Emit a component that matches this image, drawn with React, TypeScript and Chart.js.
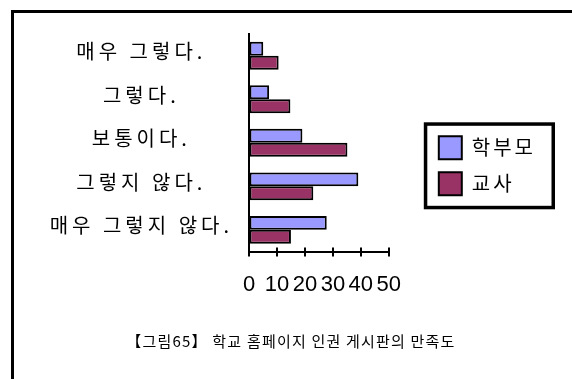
import React, { useEffect, useRef } from "react";
import { Chart, registerables } from "chart.js";

Chart.register(...registerables);

const categories = ["매우 그렇다.", "그렇다.", "보통이다.", "그렇지 않다.", "매우 그렇지 않다."];
const seriesNames = ["학부모", "교사"];
const parentValues = [5.1, 7.2, 19.1, 39.1, 27.8];
const teacherValues = [10.6, 14.8, 35.2, 23.0, 15.0];
const xTicks = [0, 10, 20, 30, 40, 50];
const caption = "【그림65】 학교 홈페이지 인권 게시판의 만족도";

const KR = "'Noto Sans CJK KR', 'Noto Sans', sans-serif";

const crossTicks = {
  id: "crossTicks",
  afterDatasetsDraw(chart: any) {
    const xs = chart.scales.x;
    const ctx = chart.ctx;
    const y = chart.chartArea.bottom;
    ctx.save();
    ctx.strokeStyle = "#000";
    ctx.lineWidth = 2;
    xs.ticks.forEach((t: any) => {
      const px = Math.round(xs.getPixelForValue(t.value));
      ctx.beginPath();
      ctx.moveTo(px, y - 4);
      ctx.lineTo(px, y + 5);
      ctx.stroke();
    });
    ctx.restore();
  },
};

const textSpacing = {
  id: "textSpacing",
  afterLayout(chart: any) {
    const ys = chart.scales.y;
    if (ys && !ys.__spaced) {
      const orig = ys.drawLabels;
      ys.drawLabels = function (area: any) {
        const c = this.ctx;
        c.save();
        c.letterSpacing = "4px";
        orig.call(this, area);
        c.restore();
      };
      ys.__spaced = true;
    }
    const lg = chart.legend;
    if (lg && !lg.__spaced) {
      const o = lg.draw;
      lg.draw = function (...args: any[]) {
        const c = this.ctx;
        c.save();
        c.letterSpacing = "3px";
        o.apply(this, args);
        c.restore();
      };
      lg.__spaced = true;
    }
  },
};

const legendBox = {
  id: "legendBox",
  afterLayout(chart: any) {
    const lg = chart.legend;
    if (!lg) return;
    const dx = chart.chartArea.right + 37 - lg.left;
    const dy = 23;
    lg.left += dx;
    lg.right += dx;
    lg.top += dy;
    lg.bottom += dy;
  },
  afterDraw(chart: any) {
    const lg = chart.legend;
    if (!lg || !lg.legendHitBoxes || !lg.legendHitBoxes.length) return;
    const hbs = lg.legendHitBoxes;
    const first = hbs[0];
    const last = hbs[hbs.length - 1];
    let right = 0;
    hbs.forEach((h: any) => (right = Math.max(right, h.left + h.width)));
    const x0 = first.left - 15;
    const y0 = first.top - 14;
    const x1 = right + 28;
    const y1 = last.top + last.height + 14;
    const ctx = chart.ctx;
    ctx.save();
    ctx.strokeStyle = "#000";
    ctx.lineWidth = 3.5;
    ctx.strokeRect(x0 + 1.75, y0 + 1.75, x1 - x0 - 3.5, y1 - y0 - 3.5);
    ctx.restore();
  },
};

export default function App() {
  const ref = useRef<HTMLCanvasElement | null>(null);

  useEffect(() => {
    if (!ref.current) return;
    const chart = new Chart(ref.current, {
      type: "bar",
      data: {
        labels: categories,
        datasets: [
          {
            label: seriesNames[0],
            data: parentValues,
            backgroundColor: "#9999FF",
            borderColor: "#000",
            borderWidth: 2,
            borderSkipped: false,
            categoryPercentage: 0.64,
            barPercentage: 1,
          },
          {
            label: seriesNames[1],
            data: teacherValues,
            backgroundColor: "#993366",
            borderColor: "#000",
            borderWidth: 2,
            borderSkipped: false,
            categoryPercentage: 0.64,
            barPercentage: 1,
          },
        ],
      },
      options: {
        indexAxis: "y",
        responsive: false,
        animation: false,
        devicePixelRatio: 1,
        layout: { padding: { top: 34, left: 0, right: 72, bottom: 61 } },
        scales: {
          x: {
            min: 0,
            max: 50,
            afterBuildTicks: (s: any) => {
              s.ticks = xTicks.map((v) => ({ value: v }));
            },
            grid: { drawOnChartArea: false, drawTicks: false },
            border: { display: true, color: "#000", width: 2 },
            ticks: {
              padding: 20,
              color: "#000",
              maxRotation: 0,
              autoSkip: false,
              font: { family: "'Liberation Sans', Arial, sans-serif", size: 22 },
            },
          },
          y: {
            afterFit: (s: any) => {
              s.width = 249;
              s.paddingTop = 0;
              s.paddingBottom = 0;
            },
            grid: { display: false, drawTicks: false },
            border: { display: true, color: "#000", width: 2 },
            ticks: {
              crossAlign: "center",
              padding: 36,
              labelOffset: -4,
              color: "#000",
              font: { family: KR, size: 20 },
            },
          },
        },
        plugins: {
          legend: {
            position: "right",
            fullSize: false,
            labels: {
              boxWidth: 23,
              boxHeight: 23,
              padding: 13,
              color: "#000",
              font: { family: KR, size: 20 },
            },
          },
          title: { display: false },
          tooltip: { enabled: false },
        },
      },
      plugins: [textSpacing, crossTicks, legendBox],
    } as any);
    return () => chart.destroy();
  }, []);

  return (
    <div
      style={{
        position: "absolute",
        left: 0,
        top: 0,
        width: 572,
        height: 379,
        background: "#fff",
        overflow: "hidden",
      }}
    >
      <div
        style={{
          position: "absolute",
          left: 11,
          top: 10,
          width: 700,
          height: 500,
          borderTop: "3px solid #000",
          borderLeft: "3px solid #000",
        }}
      />
      <canvas
        ref={ref}
        width={572}
        height={379}
        style={{ position: "absolute", left: 0, top: 0, display: "block" }}
      />
      <div
        style={{
          position: "absolute",
          left: 5,
          width: 572,
          top: 330,
          height: 21,
          lineHeight: "21px",
          textAlign: "center",
          fontFamily: KR,
          fontSize: 15,
          letterSpacing: "1.2px",
          color: "#000",
          whiteSpace: "nowrap",
        }}
      >
        {caption}
      </div>
    </div>
  );
}
